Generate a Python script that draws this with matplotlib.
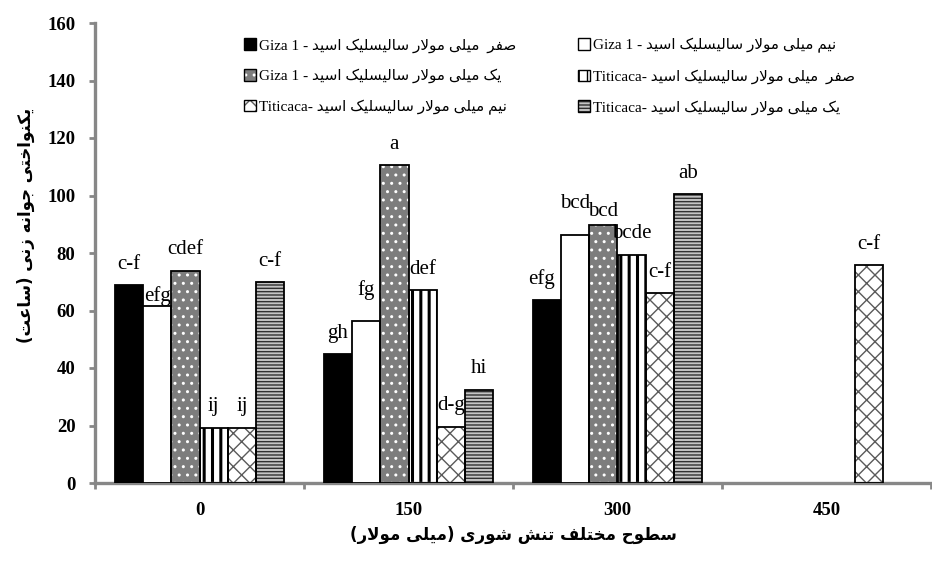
import numpy as np
import matplotlib
matplotlib.use("Agg")
from matplotlib import pyplot as plt
from matplotlib.patches import Patch
from matplotlib.legend_handler import HandlerTuple

# salinity levels (mM) on the x axis
salinity = ["0", "150", "300", "450"]

# mean germination uniformity time (hours) per cultivar / salicylic acid level
giza_sa0 = [68.7, 44.8, 63.6, np.nan]
giza_sa05 = [61.5, 56.4, 86.2, np.nan]
giza_sa1 = [73.9, 110.5, 89.8, np.nan]
titi_sa0 = [19.3, 67.0, 79.4, np.nan]
titi_sa05 = [19.3, 19.5, 66.0, 75.8]
titi_sa1 = [69.8, 32.5, 100.4, np.nan]

# Duncan letters above each bar
giza_sa0_let = ["c-f", "gh", "efg", ""]
giza_sa05_let = ["efg", "fg", "bcd", ""]
giza_sa1_let = ["cdef", "a", "bcd", ""]
titi_sa0_let = ["ij", "def", "bcde", ""]
titi_sa05_let = ["ij", "d-g", "c-f", "c-f"]
titi_sa1_let = ["c-f", "hi", "ab", ""]

sa_levels = ["صفر  میلی مولار سالیسلیک اسید",
             "نیم میلی مولار سالیسلیک اسید",
             "یک میلی مولار سالیسلیک اسید"]
cultivars = ["Giza 1 - ", "Titicaca- "]

x_title = "سطوح مختلف تنش شوری (میلی مولار)"
y_title = "یکنواختی جوانه زنی (ساعت)"

# --- tiny Persian shaper: contextual forms + RTL order (no bidi lib here) ---
# isolated, final, initial, medial  (2-tuples only join to the right)
FORMS = {
    'ا': ('\uFE8D', '\uFE8E'), 'د': ('\uFEA9', '\uFEAA'),
    'ر': ('\uFEAD', '\uFEAE'), 'ز': ('\uFEAF', '\uFEB0'),
    'و': ('\uFEED', '\uFEEE'),
    'ت': ('\uFE95', '\uFE96', '\uFE97', '\uFE98'),
    'ج': ('\uFE9D', '\uFE9E', '\uFE9F', '\uFEA0'),
    'ح': ('\uFEA1', '\uFEA2', '\uFEA3', '\uFEA4'),
    'خ': ('\uFEA5', '\uFEA6', '\uFEA7', '\uFEA8'),
    'س': ('\uFEB1', '\uFEB2', '\uFEB3', '\uFEB4'),
    'ش': ('\uFEB5', '\uFEB6', '\uFEB7', '\uFEB8'),
    'ص': ('\uFEB9', '\uFEBA', '\uFEBB', '\uFEBC'),
    'ط': ('\uFEC1', '\uFEC2', '\uFEC3', '\uFEC4'),
    'ع': ('\uFEC9', '\uFECA', '\uFECB', '\uFECC'),
    'ف': ('\uFED1', '\uFED2', '\uFED3', '\uFED4'),
    'ل': ('\uFEDD', '\uFEDE', '\uFEDF', '\uFEE0'),
    'م': ('\uFEE1', '\uFEE2', '\uFEE3', '\uFEE4'),
    'ن': ('\uFEE5', '\uFEE6', '\uFEE7', '\uFEE8'),
    'ه': ('\uFEE9', '\uFEEA', '\uFEEB', '\uFEEC'),
    'ی': ('\uFBFC', '\uFBFD', '\uFBFE', '\uFBFF'),
    'ک': ('\uFB8E', '\uFB8F', '\uFB90', '\uFB91'),
}
LAM_ALEF = ('\uFEFB', '\uFEFC')
MIRROR = {'(': ')', ')': '('}


def fa(text):
    out = []
    prev_join = False
    i = 0
    while i < len(text):
        c = text[i]
        if c not in FORMS:
            out.append(MIRROR.get(c, c))
            prev_join = False
            i += 1
            continue
        if c == 'ل' and i + 1 < len(text) and text[i + 1] == 'ا':
            out.append(LAM_ALEF[1] if prev_join else LAM_ALEF[0])
            prev_join = False
            i += 2
            continue
        f = FORMS[c]
        nxt = text[i + 1] if i + 1 < len(text) else ''
        to_next = len(f) == 4 and nxt in FORMS
        if prev_join and to_next:
            out.append(f[3])
        elif prev_join:
            out.append(f[1])
        elif to_next:
            out.append(f[2])
        else:
            out.append(f[0])
        prev_join = to_next
        i += 1
    return ''.join(reversed(out))


series = [giza_sa0, giza_sa05, giza_sa1, titi_sa0, titi_sa05, titi_sa1]
letters = [giza_sa0_let, giza_sa05_let, giza_sa1_let,
           titi_sa0_let, titi_sa05_let, titi_sa1_let]
labels = [cultivars[0] + fa(s) for s in sa_levels] + \
         [cultivars[1] + fa(s) for s in sa_levels]

# face, hatch, hatch colour, hatch width
styles = [
    ("black", None, "black", 1.0),
    ("white", None, "black", 1.0),
    ("#7d7d7d", "..", "white", 1.0),
    ("white", "||", "black", 2.2),
    ("white", "xx", "#5a5a5a", 1.0),
    ("#c4c4c4", "-----", "#303030", 1.0),
]

# label offsets in pixels where the default would collide
label_dy = {(1, 0): 10, (1, 1): 31, (1, 2): 32, (2, 2): 13}
label_dx = {(0, 2): -5}

serif = ["Liberation Serif", "DejaVu Sans"]
axis_gray = "#878787"

fig = plt.figure(figsize=(9.32, 5.63), dpi=100)
ax = fig.add_axes([95 / 932, 1 - 483 / 563, 836 / 932, 460 / 563])

x = np.arange(len(salinity))
w = 0.1355
handles = []
for i, vals in enumerate(series):
    face, hatch, hcol, hlw = styles[i]
    xs = x + (i - 2.5) * w
    with plt.rc_context({"hatch.linewidth": hlw}):
        if hatch:
            ax.bar(xs, vals, w, color=face, edgecolor=hcol, linewidth=0,
                   hatch=hatch, zorder=2)
            ax.bar(xs, vals, w, fill=False, edgecolor="black", linewidth=1.3,
                   zorder=3)
            h = (Patch(facecolor=face, edgecolor=hcol, hatch=hatch, linewidth=0),
                 Patch(fill=False, edgecolor="black", linewidth=1.0))
        else:
            ax.bar(xs, vals, w, color=face, edgecolor="black", linewidth=1.3,
                   zorder=3)
            h = Patch(facecolor=face, edgecolor="black", linewidth=1.0)
    handles.append(h)
    for j, v in enumerate(vals):
        if np.isnan(v) or not letters[i][j]:
            continue
        ax.annotate(letters[i][j], (xs[j], v),
                    xytext=(label_dx.get((i, j), 0), label_dy.get((i, j), 21)),
                    textcoords="offset pixels", ha="center", va="center",
                    fontsize=15, family=serif, zorder=4)

ax.set_xlim(-0.5, len(salinity) - 0.5)
ax.set_ylim(0, 160)
ax.set_yticks(np.arange(0, 161, 20))
ax.set_xticks(np.arange(-0.5, len(salinity), 1))
ax.set_xticklabels([])
ax.set_xticks(x, minor=True)
ax.set_xticklabels(salinity, minor=True)
ax.tick_params(axis="x", which="minor", length=0, pad=14)
ax.tick_params(axis="both", which="major", length=4, width=2,
               color=axis_gray, direction="out")
ax.tick_params(axis="y", pad=10)
for t in ax.get_yticklabels() + ax.get_xticklabels(minor=True):
    t.set_family(serif)
    t.set_fontweight("bold")
    t.set_fontsize(13.5)

for s in ["top", "right"]:
    ax.spines[s].set_visible(False)
for s in ["left", "bottom"]:
    ax.spines[s].set_color(axis_gray)
    ax.spines[s].set_linewidth(2.4)

ax.set_xlabel(fa(x_title), family="DejaVu Sans", fontweight="bold",
              fontsize=12, labelpad=5)
fig.text(26 / 932, 1 - 225 / 563, fa(y_title), rotation=90, ha="center",
         va="center", family="DejaVu Sans", fontweight="bold", fontsize=12)

order = [0, 2, 4, 1, 3, 5]
fig.legend([handles[k] for k in order], [labels[k] for k in order],
           ncol=2, loc="upper left", bbox_to_anchor=(238 / 932, 1 - 32 / 563),
           frameon=False, prop={"family": serif, "size": 11},
           handlelength=0.8, handleheight=0.8, handletextpad=0.2,
           columnspacing=4.0, labelspacing=1.05, borderaxespad=0,
           handler_map={tuple: HandlerTuple(ndivide=1, pad=0)})

fig.savefig("out.png", dpi=100)
